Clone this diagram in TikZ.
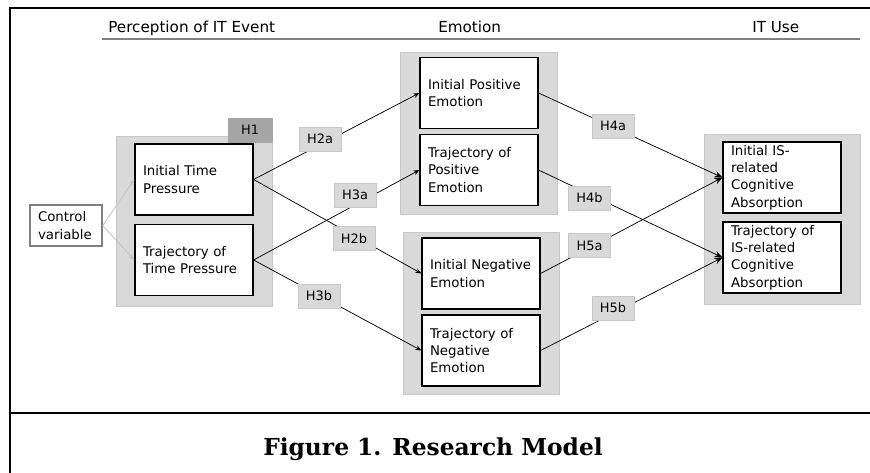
\documentclass[tikz,border=0pt]{standalone}
\usepackage{fontspec}
\setmainfont{DejaVu Sans}
\newfontfamily\capfont{DejaVu Serif}
\usetikzlibrary{arrows.meta}
\definecolor{grpgray}{RGB}{217,217,217}
\definecolor{grpedge}{RGB}{200,200,200}
\definecolor{tagdarkc}{RGB}{166,166,166}
\definecolor{ctrlgray}{RGB}{128,128,128}
\definecolor{lightarrow}{RGB}{195,195,195}
\begin{document}
\begin{tikzpicture}[x=0.75pt,y=-0.75pt,
  grp/.style={fill=grpgray,draw=grpedge,line width=0.6pt},
  box/.style={draw=black,fill=white,line width=0.9pt,minimum width=88.5pt,minimum height=53.25pt,
    text width=76.5pt,inner xsep=6pt,inner ysep=1pt,align=left,font=\fontsize{10}{13}\selectfont},
  ctrlbox/.style={draw=ctrlgray,fill=white,line width=1.1pt,minimum width=54pt,minimum height=30.75pt,
    text width=42pt,inner xsep=6pt,inner ysep=1pt,align=left,font=\fontsize{10}{13}\selectfont},
  tag/.style={fill=grpgray,draw=grpedge,line width=0.5pt,minimum width=31.5pt,minimum height=18pt,
    inner sep=0pt,font=\fontsize{9.7}{11}\selectfont},
  tagdark/.style={tag,fill=tagdarkc,draw=tagdarkc,minimum width=33pt},
  hdr/.style={anchor=base west,inner sep=0pt,font=\fontsize{11.4}{13}\selectfont},
  hyp/.style={draw=black,line width=0.55pt,-{Stealth[length=4.5pt,width=3.6pt]}},
  hypbig/.style={draw=black,line width=0.55pt,-{Stealth[length=6pt,width=5pt]}},
  ctrlarrow/.style={draw=lightarrow,line width=0.6pt,-{Stealth[length=4.5pt,width=3.6pt]}},
  frame/.style={draw=black,line width=1.6pt}
]
\useasboundingbox (0,0) rectangle (870,472);
% frame
\draw[frame] (10,473) -- (10,8) -- (871,8);
\draw[frame] (10,413) -- (871,413);
% headers
\node[hdr] (hperc) at (108,32.5) {Perception of IT Event};
\node[hdr] (hemo) at (438,32.5) {Emotion};
\node[hdr] (huse) at (752,32.5) {IT Use};
\draw[ctrlgray,line width=0.9pt] (102,39) -- (860,39);
% groups
\draw[grp] (116,136) rectangle (272,306);
\draw[grp] (400,52) rectangle (557,214);
\draw[grp] (403,232) rectangle (559,394);
\draw[grp] (704,134) rectangle (860,304);
\node[tagdark] (h1) at (250,130) {H1};
% boxes
\node[ctrlbox] (cv) at (66,225.5) {Control\\variable};
\node[box] (itp) at (194,179.5) {Initial Time\\Pressure};
\node[box] (ttp) at (194,260) {Trajectory of\\Time Pressure};
\node[box] (ipe) at (479,93) {Initial Positive\\Emotion};
\node[box] (tpe) at (479,170) {Trajectory of\\Positive\\Emotion};
\node[box] (ine) at (481,273.5) {Initial Negative\\Emotion};
\node[box] (tne) at (481,350.5) {Trajectory of\\Negative\\Emotion};
\node[box] (iisca) at (782,177.5) {Initial IS-\\related\\Cognitive\\Absorption};
\node[box] (tisca) at (782,257.5) {Trajectory of\\IS-related\\Cognitive\\Absorption};
% connectors
\draw[ctrlarrow] (cv.east) -- (itp.west);
\draw[ctrlarrow] (cv.east) -- (ttp.west);
\draw[hyp] (itp.east) -- (ipe.west);
\draw[hyp] (itp.east) -- (ine.west);
\draw[hyp] (ttp.east) -- (tpe.west);
\draw[hyp] (ttp.east) -- (tne.west);
\draw[hypbig] (ipe.east) -- (iisca.west);
\draw[hypbig] (tpe.east) -- (tisca.west);
\draw[hypbig] (ine.east) -- (iisca.west);
\draw[hypbig] (tne.east) -- (tisca.west);
% hypothesis labels
\node[tag] (h2a) at (320,139) {H2a};
\node[tag] (h3a) at (355,195) {H3a};
\node[tag] (h2b) at (354,238.5) {H2b};
\node[tag] (h3b) at (319,296) {H3b};
\node[tag] (h4a) at (613,126) {H4a};
\node[tag] (h4b) at (589.5,198) {H4b};
\node[tag] (h5a) at (589.5,245.5) {H5a};
\node[tag] (h5b) at (613,308) {H5b};
% caption
\node[anchor=base,inner sep=0pt,font=\capfont\bfseries\fontsize{17.5}{20}\selectfont] (cap) at (433,455) {Figure 1. Research Model};
\end{tikzpicture}
\end{document}
